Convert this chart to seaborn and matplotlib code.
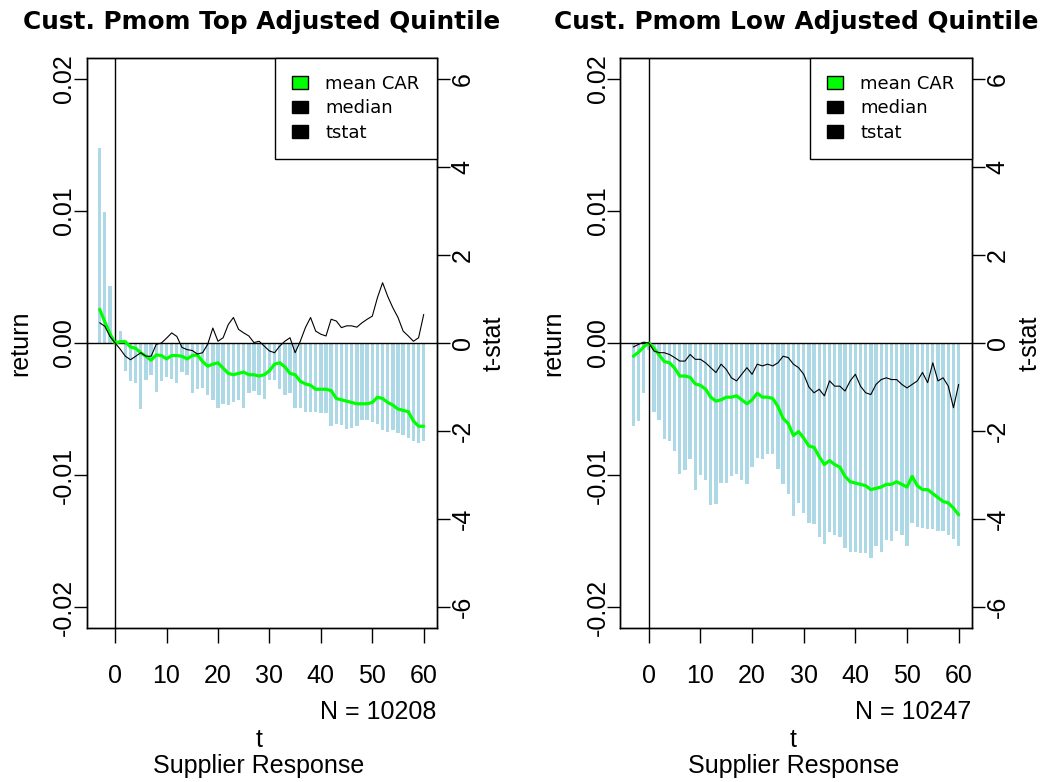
import numpy as np
import pandas as pd
import seaborn as sns
import matplotlib
matplotlib.use("Agg")
import matplotlib.pyplot as plt
from matplotlib.patches import Patch

# event days
t_days = list(range(-3, 61))

# Top adjusted quintile (left panel)
top_bars = [0.0148, 0.0099, 0.0043, 0.0002,
            0.0009, -0.0021, -0.0029, -0.0030, -0.0050, -0.0028, -0.0024, -0.0037, -0.0029, -0.0026,
            -0.0027, -0.0030, -0.0022, -0.0024, -0.0038, -0.0035, -0.0034, -0.0039, -0.0043, -0.0049,
            -0.0046, -0.0047, -0.0045, -0.0043, -0.0049, -0.0038, -0.0036, -0.0039, -0.0042, -0.0028,
            -0.0028, -0.0035, -0.0039, -0.0038, -0.0049, -0.0049, -0.0052, -0.0052, -0.0052, -0.0053,
            -0.0053, -0.0063, -0.0061, -0.0062, -0.0065, -0.0064, -0.0063, -0.0058, -0.0058, -0.0060,
            -0.0061, -0.0066, -0.0067, -0.0066, -0.0068, -0.0070, -0.0072, -0.0074, -0.0076, -0.0074]
top_car = [0.00255, 0.0016, 0.0007, 0.0,
           0.0001, 0.0001, -0.0003, -0.0004, -0.00075, -0.0010, -0.0013, -0.0009, -0.00095, -0.0012,
           -0.00095, -0.00095, -0.0010, -0.0012, -0.00095, -0.0009, -0.0014, -0.00175, -0.0016, -0.0015,
           -0.0019, -0.0023, -0.0024, -0.0023, -0.0022, -0.0024, -0.0024, -0.0025, -0.0024, -0.0021,
           -0.0016, -0.0015, -0.0018, -0.0023, -0.0024, -0.0029, -0.0031, -0.0032, -0.0035, -0.0035,
           -0.0035, -0.0036, -0.0042, -0.0043, -0.0044, -0.0045, -0.0046, -0.0046, -0.0046, -0.0045,
           -0.0041, -0.0042, -0.0045, -0.0047, -0.0050, -0.0051, -0.0052, -0.0059, -0.0063, -0.0063]
top_tstat = [0.46, 0.38, 0.15, 0.0,
             -0.14, -0.30, -0.38, -0.30, -0.22, -0.30, -0.30, -0.03, 0.0, 0.11,
             0.23, 0.15, -0.10, -0.15, -0.17, -0.25, -0.22, -0.03, 0.34, 0.04,
             0.12, 0.42, 0.58, 0.31, 0.23, 0.16, 0.01, 0.04, -0.07, -0.18,
             -0.22, -0.07, 0.04, 0.12, -0.22, 0.04, 0.35, 0.58, 0.27, 0.20,
             0.16, 0.54, 0.50, 0.35, 0.39, 0.39, 0.36, 0.46, 0.54, 0.61,
             1.03, 1.37, 1.06, 0.80, 0.58, 0.27, 0.16, 0.04, 0.12, 0.65]

# Low adjusted quintile (right panel)
low_bars = [-0.0063, -0.0059, -0.0038, -0.0005,
            -0.0052, -0.0058, -0.0073, -0.0074, -0.0082, -0.0099, -0.0096, -0.0088, -0.0111, -0.0100,
            -0.0104, -0.0123, -0.0122, -0.0106, -0.0106, -0.0101, -0.0099, -0.0104, -0.0107, -0.0094,
            -0.0087, -0.0088, -0.0084, -0.0084, -0.0095, -0.0107, -0.0114, -0.0131, -0.0121, -0.0129,
            -0.0136, -0.0137, -0.0147, -0.0152, -0.0143, -0.0145, -0.0147, -0.0155, -0.0158, -0.0158,
            -0.0159, -0.0159, -0.0163, -0.0154, -0.0158, -0.0149, -0.0150, -0.0142, -0.0145, -0.0154,
            -0.0136, -0.0139, -0.0140, -0.0141, -0.0141, -0.0142, -0.0142, -0.0145, -0.0148, -0.0154]
low_car = [-0.0010, -0.0007, -0.0003, 0.0,
           -0.0004, -0.0009, -0.0014, -0.0015, -0.0019, -0.0025, -0.0025, -0.0026, -0.0031, -0.0032,
           -0.0035, -0.0041, -0.0044, -0.0043, -0.0041, -0.0041, -0.0040, -0.0043, -0.0046, -0.0043,
           -0.0038, -0.0041, -0.0041, -0.0042, -0.0048, -0.0057, -0.0061, -0.0070, -0.0067, -0.0072,
           -0.0078, -0.0079, -0.0086, -0.0092, -0.0089, -0.0092, -0.0094, -0.0101, -0.0105, -0.0106,
           -0.0107, -0.0108, -0.0111, -0.0110, -0.0109, -0.0107, -0.0107, -0.0105, -0.0107, -0.0109,
           -0.0101, -0.0108, -0.0111, -0.0111, -0.0114, -0.0117, -0.0120, -0.0121, -0.0125, -0.0130]
low_tstat = [-0.09, -0.03, 0.02, 0.0,
             -0.18, -0.22, -0.22, -0.26, -0.33, -0.41, -0.41, -0.26, -0.37, -0.37,
             -0.45, -0.56, -0.67, -0.48, -0.60, -0.79, -0.86, -0.71, -0.56, -0.71,
             -0.48, -0.52, -0.48, -0.52, -0.45, -0.30, -0.33, -0.48, -0.56, -0.71,
             -1.00, -1.13, -1.05, -1.20, -0.86, -0.98, -0.98, -1.09, -0.86, -0.71,
             -0.98, -1.13, -1.17, -0.94, -0.83, -0.79, -0.83, -0.83, -0.94, -1.02,
             -0.94, -0.86, -0.67, -0.90, -0.45, -0.86, -0.79, -0.98, -1.47, -0.94]

titles = ["Cust. Pmom Top Adjusted Quintile", "Cust. Pmom Low Adjusted Quintile"]
n_labels = ["N = 10208", "N = 10247"]
legend_labels = ["mean CAR", "median", "tstat"]
ret_ticks = [-0.02, -0.01, 0.0, 0.01, 0.02]
ret_ticklabels = ["-0.02", "-0.01", "0.00", "0.01", "0.02"]
t_ticks = [-6, -4, -2, 0, 2, 4, 6]
x_ticks = [0, 10, 20, 30, 40, 50, 60]

sns.set_style("white")
plt.rcParams["font.family"] = ["Liberation Sans", "DejaVu Sans"]
plt.rcParams["axes.unicode_minus"] = False
for key in ("text.color", "axes.labelcolor", "xtick.color", "ytick.color", "axes.titlecolor"):
    plt.rcParams[key] = "black"

BAR_COL = "#ADD8E6"
CAR_COL = "#00FF00"
FS = 18


def draw_panel(ax, bars, car, tstat, title, n_label):
    df = pd.DataFrame({"t": t_days, "bar": bars, "car": car, "tstat": tstat})

    sns.barplot(data=df, x="t", y="bar", ax=ax, native_scale=True, width=0.65,
                color=BAR_COL, saturation=1, linewidth=0, errorbar=None, zorder=1)
    ax.axhline(0, color="black", lw=1.0, zorder=2)
    ax.axvline(0, color="black", lw=1.0, zorder=2)
    sns.lineplot(data=df, x="t", y="car", ax=ax, color=CAR_COL, lw=2.3, errorbar=None, zorder=3)

    ax2 = ax.twinx()
    sns.lineplot(data=df, x="t", y="tstat", ax=ax2, color="black", lw=0.8, errorbar=None)

    ax.set_xlim(-5.52, 62.52)
    ax.set_ylim(-0.0216, 0.0216)
    ax2.set_ylim(-6.48, 6.48)

    ax.set_xticks(x_ticks)
    ax.set_xticklabels([str(v) for v in x_ticks])
    ax.set_yticks(ret_ticks)
    ax.set_yticklabels(ret_ticklabels)
    ax2.set_yticks(t_ticks)
    ax2.set_yticklabels([str(v) for v in t_ticks])

    ax.tick_params(axis="x", direction="out", length=10.8, width=1, pad=15,
                   labelsize=FS, bottom=True)
    ax.tick_params(axis="y", direction="out", length=9.6, width=1, pad=-2,
                   labelsize=FS, labelrotation=90, left=True)
    ax2.tick_params(axis="y", direction="out", length=9.6, width=1, pad=0.5,
                    labelsize=FS, labelrotation=90, right=True)
    for lab in ax.get_yticklabels() + ax2.get_yticklabels():
        lab.set_va("center")

    for a in (ax, ax2):
        a.set_xlabel("")
        a.set_ylabel("")
        for sp in a.spines.values():
            sp.set_visible(True)
            sp.set_color("black")
            sp.set_linewidth(1.0)

    ax.set_title(title, fontsize=17.8, fontweight="bold", family="DejaVu Sans",
                 color="black", pad=20.5)

    ax.text(-0.19, 0.5, "return", transform=ax.transAxes, rotation=90,
            ha="center", va="center", fontsize=FS)
    ax.text(1.164, 0.5, "t-stat", transform=ax.transAxes, rotation=90,
            ha="center", va="center", fontsize=FS)
    ax.text(1.0, -0.1595, n_label, transform=ax.transAxes, ha="right", va="baseline", fontsize=FS)
    ax.text(0.493, -0.2075, "t", transform=ax.transAxes, ha="center", va="baseline", fontsize=FS)
    ax.text(0.492, -0.2536, "Supplier Response", transform=ax.transAxes, ha="center",
            va="baseline", fontsize=FS)

    handles = [Patch(facecolor=CAR_COL, edgecolor="black", linewidth=1),
               Patch(facecolor="black", edgecolor="black", linewidth=1),
               Patch(facecolor="black", edgecolor="black", linewidth=1)]
    leg = ax2.legend(handles, legend_labels, loc="upper right", bbox_to_anchor=(1, 1),
                     borderaxespad=0, frameon=True, fancybox=False, framealpha=1,
                     edgecolor="black", prop={"family": "DejaVu Sans", "size": 13},
                     handlelength=0.93, handleheight=0.72, handletextpad=0.93,
                     labelspacing=0.36, borderpad=0.95)
    leg.get_frame().set_linewidth(1.0)


fig = plt.figure(figsize=(10.51, 7.82), dpi=100)
ax_left = fig.add_axes([0.0825, 0.1965, 0.333, 0.7297])
ax_right = fig.add_axes([0.5902, 0.1965, 0.3343, 0.7297])

draw_panel(ax_left, top_bars, top_car, top_tstat, titles[0], n_labels[0])
draw_panel(ax_right, low_bars, low_car, low_tstat, titles[1], n_labels[1])

fig.savefig("out.png", dpi=100, facecolor="white")
